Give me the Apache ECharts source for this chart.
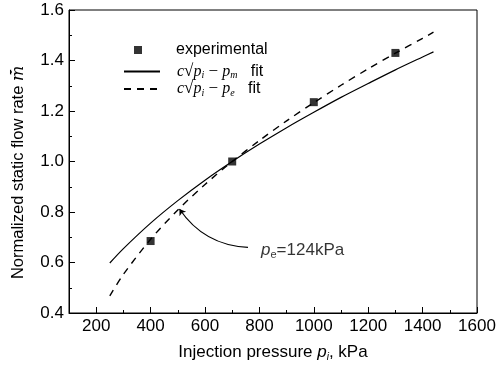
<!DOCTYPE html>
<html>
<head>
<meta charset="utf-8">
<script src="https://cdn.jsdelivr.net/npm/echarts@6/dist/echarts.min.js"></script>
<style>
  html, body { margin: 0; padding: 0; background: #fff; }
  #chart { width: 499px; height: 367px; }
</style>
</head>
<body>
<div id="chart"></div>
<script>
// measured points
const expX = [400, 700, 1000, 1300];
const expY = [0.685, 1.0, 1.235, 1.43];

// fit curves
const fitX = [250, 300, 400, 500, 600, 700, 800, 900, 1000, 1100, 1200, 1300, 1400, 1440];
const fitM = [0.598, 0.655, 0.756, 0.845, 0.926, 1.0, 1.069, 1.134, 1.195, 1.254, 1.309, 1.363, 1.414, 1.434];
const fitE = [0.468, 0.553, 0.692, 0.808, 0.909, 1.0, 1.083, 1.161, 1.233, 1.302, 1.367, 1.429, 1.488, 1.512];

const xMajor = [200, 400, 600, 800, 1000, 1200, 1400, 1600];

// callout: from label to the dashed curve
const calloutFrom = [758, 0.66];
const calloutTo = [506, 0.812];
const calloutLabel = [806, 0.648];

const FONT = 'Liberation Sans';
const SERIF = 'Liberation Serif';

const chart = echarts.init(document.getElementById('chart'));

const zip = (xs, ys) => xs.map((x, i) => [x, ys[i]]);

const mathRich = {
  c: { fontFamily: SERIF, fontStyle: 'italic', fontSize: 16, color: '#000' },
  r: { fontFamily: SERIF, fontSize: 17, color: '#000' },
  b: { fontFamily: SERIF, fontStyle: 'italic', fontSize: 10, color: '#000', verticalAlign: 'bottom', padding: [8, 0, 0, 0] },
  f: { fontFamily: FONT, fontSize: 16, color: '#000' },
  t: { fontFamily: FONT, fontSize: 16, color: '#000' }
};

const legendNames = {
  experimental: '{t|experimental}',
  fitM: '{c|c}{r|√}{c|p}{b|i}{r| − }{c|p}{b|m}{f|   fit}',
  fitE: '{c|c}{r|√}{c|p}{b|i}{r| − }{c|p}{b|e}{f|   fit}'
};

const option = {
  backgroundColor: '#fff',
  animation: false,
  grid: {
    left: 69, right: 22, top: 10, bottom: 54,
    show: true, borderColor: '#000', borderWidth: 1
  },
  legend: [
    {
      data: [{ name: 'experimental', icon: 'rect' }],
      left: 129, top: 37,
      itemWidth: 8, itemHeight: 8,
      formatter: n => legendNames[n],
      textStyle: { rich: mathRich, padding: [0, 0, 0, 29] },
      selectedMode: false
    },
    {
      data: ['fitM', 'fitE'],
      orient: 'vertical',
      left: 118, top: 58,
      itemGap: 0,
      itemWidth: 36, itemHeight: 8,
      itemStyle: { opacity: 0 },
      formatter: n => legendNames[n],
      textStyle: { rich: mathRich, padding: [0, 0, 0, 12] },
      selectedMode: false
    }
  ],
  xAxis: [
    {
      type: 'value', min: 100, max: 1600, interval: 100,
      name: '{a|Injection pressure }{p|p}{s|i}{a|, kPa}',
      nameLocation: 'middle', nameGap: 30,
      nameTextStyle: {
        rich: {
          a: { fontFamily: FONT, fontSize: 17, color: '#000' },
          p: { fontFamily: FONT, fontStyle: 'italic', fontSize: 17, color: '#000' },
          s: { fontFamily: FONT, fontStyle: 'italic', fontSize: 10, color: '#000', verticalAlign: 'bottom', padding: [9, 0, 0, 0] }
        }
      },
      axisLine: { lineStyle: { color: '#000', width: 1 } },
      axisTick: { inside: true, length: 3, lineStyle: { color: '#000' } },
      axisLabel: {
        formatter: v => (v % 200 === 0 ? String(v) : ''),
        color: '#000', fontFamily: FONT, fontSize: 17, margin: 5
      },
      splitLine: { show: false }
    },
    {
      type: 'value', min: 100, max: 1600, position: 'bottom', offset: 0,
      axisLine: { show: false },
      axisTick: { inside: true, length: 6, customValues: xMajor, lineStyle: { color: '#000' } },
      axisLabel: { show: false },
      splitLine: { show: false }
    }
  ],
  yAxis: {
    type: 'value', min: 0.4, max: 1.6, interval: 0.2,
    name: '{a|Normalized static flow rate }{m|m\u0304\u0307}',
    nameLocation: 'middle', nameGap: 42, nameRotate: 90,
    nameTextStyle: {
      padding: [0, 22, 0, 0],
      rich: {
        a: { fontFamily: FONT, fontSize: 16.5, color: '#000' },
        m: { fontFamily: 'DejaVu Serif', fontStyle: 'italic', fontSize: 16, color: '#000' }
      }
    },
    axisLine: { lineStyle: { color: '#000', width: 1 } },
    axisTick: { inside: true, length: 6, lineStyle: { color: '#000' } },
    minorTick: { show: true, splitNumber: 2, length: 3, lineStyle: { color: '#000' } },
    axisLabel: {
      formatter: v => v.toFixed(1),
      color: '#000', fontFamily: FONT, fontSize: 17, margin: 5
    },
    splitLine: { show: false }
  },
  series: [
    {
      name: 'experimental',
      type: 'scatter',
      data: zip(expX, expY),
      symbol: 'rect',
      symbolSize: 8,
      itemStyle: { color: '#000' },
      z: 5
    },
    {
      name: 'fitM',
      type: 'line',
      data: zip(fitX, fitM),
      showSymbol: false,
      symbol: 'none',
      smooth: 0.3,
      lineStyle: { color: '#000', width: 1.2 },
      itemStyle: { color: '#000' }
    },
    {
      name: 'fitE',
      type: 'line',
      data: zip(fitX, fitE),
      showSymbol: false,
      symbol: 'none',
      smooth: 0.3,
      lineStyle: { color: '#000', width: 1.4, type: [7, 6] },
      itemStyle: { color: '#000' }
    },
    {
      name: 'callout',
      type: 'lines',
      coordinateSystem: 'cartesian2d',
      silent: true,
      symbol: ['none', 'arrow'],
      symbolSize: 6,
      lineStyle: { color: '#000', width: 1.2, curveness: 0.25, opacity: 1 },
      data: [{ coords: [calloutFrom, calloutTo] }]
    },
    {
      name: 'calloutLabel',
      type: 'scatter',
      silent: true,
      symbolSize: 0,
      data: [calloutLabel],
      label: {
        show: true,
        position: 'right',
        distance: 0,
        formatter: '{p|p}{s|e}{a|=124kPa}',
        rich: {
          p: { fontFamily: FONT, fontStyle: 'italic', fontSize: 17, color: '#000' },
          s: { fontFamily: FONT, fontSize: 11, color: '#000', verticalAlign: 'bottom', padding: [9, 0, 0, 0] },
          a: { fontFamily: FONT, fontSize: 17, color: '#000' }
        }
      }
    }
  ]
};

chart.setOption(option);
</script>
</body>
</html>
